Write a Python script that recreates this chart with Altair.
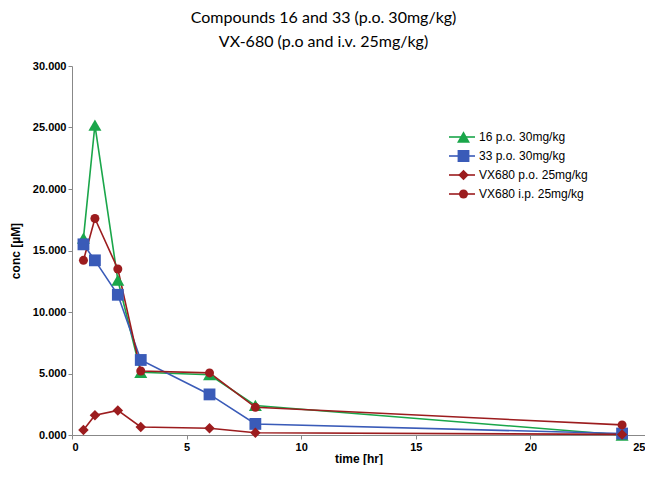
import altair as alt
import pandas as pd

times = [0.5, 1, 2, 3, 6, 8, 24]
c16 = [16.0, 25.2, 12.6, 5.1, 4.9, 2.4, 0.0]
c33 = [15.5, 14.2, 11.4, 6.1, 3.3, 0.9, 0.12]
vx_po = [0.4, 1.6, 2.0, 0.65, 0.55, 0.18, 0.05]
vx_ip = [14.2, 17.6, 13.5, 5.2, 5.05, 2.25, 0.82]

series_names = ["16 p.o. 30mg/kg", "33 p.o. 30mg/kg", "VX680 p.o. 25mg/kg", "VX680 i.p. 25mg/kg"]
series_vals = [c16, c33, vx_po, vx_ip]
colors = ["#1aa64a", "#3a5bb8", "#9c1c1e", "#9c1c1e"]
shapes = ["triangle-up", "square", "diamond", "circle"]
sizes = [169, 81, 110, 150]

rows = []
for name, vals in zip(series_names, series_vals):
    for t, v in zip(times, vals):
        rows.append({"time": t, "conc": v, "series": name, "series_l": name})
df = pd.DataFrame(rows)

x = alt.X("time:Q", scale=alt.Scale(domain=[0, 25], nice=False),
          axis=alt.Axis(values=[0, 5, 10, 15, 20, 25], title="time [hr]", grid=False,
                        labelPadding=2, tickSize=4))
y = alt.Y("conc:Q", scale=alt.Scale(domain=[0, 30], nice=False),
          axis=alt.Axis(values=[0, 5, 10, 15, 20, 25, 30], format=".3f", title="conc [µM]", grid=False))

LX, LY = 389, 71

lines = alt.Chart(df).mark_line(strokeWidth=1.6).encode(
    x=x, y=y,
    detail="series:N",
    color=alt.Color("series_l:N", sort=series_names,
                    scale=alt.Scale(domain=series_names, range=colors),
                    legend=alt.Legend(title=None, orient="none", legendX=LX - 13, legendY=LY - 7,
                                      symbolType="stroke", symbolSize=676, symbolStrokeWidth=1.6,
                                      clipHeight=14, rowPadding=5, labelExpr="''",
                                      labelFontSize=12, labelFont="Liberation Sans")),
)

pt_legend = alt.Legend(title=None, orient="none", legendX=LX - 5, legendY=LY - 7,
                       symbolSize=90, clipHeight=14, rowPadding=5,
                       labelFontSize=12, labelFont="Liberation Sans",
                       labelColor="#000", labelOffset=8)

points = alt.Chart(df).mark_point(filled=True, opacity=1).encode(
    x=x, y=y,
    color=alt.Color("series:N", sort=series_names,
                    scale=alt.Scale(domain=series_names, range=colors),
                    legend=pt_legend),
    shape=alt.Shape("series:N", sort=series_names,
                    scale=alt.Scale(domain=series_names, range=shapes),
                    legend=pt_legend),
    size=alt.Size("series:N", sort=series_names,
                  scale=alt.Scale(domain=series_names, range=sizes), legend=None),
)

chart = alt.layer(lines, points).resolve_scale(
    color="independent", shape="independent", size="independent"
).properties(
    width=573, height=369,
    autosize="none",
    padding={"left": 64, "top": 58, "right": 0, "bottom": 30},
    title=alt.TitleParams(
        text=["Compounds 16 and 33 (p.o. 30mg/kg)", "VX-680 (p.o and i.v. 25mg/kg)"],
        font="Lato", fontSize=16, fontWeight="normal", color="#000",
        anchor="middle", dx=-35, offset=10, lineHeight=24,
    ),
).configure_view(stroke=None).configure_axis(
    domainColor="#888", tickColor="#888", tickSize=4,
    labelFont="Liberation Sans", labelFontSize=11, labelFontWeight="bold", labelColor="#000",
    titleFont="Liberation Sans", titleFontSize=12, titleFontWeight="bold", titleColor="#000",
).configure_axisY(titlePadding=10).configure_axisX(titlePadding=1)

chart.save("out.html", embed_options={"renderer": "svg", "actions": False})
